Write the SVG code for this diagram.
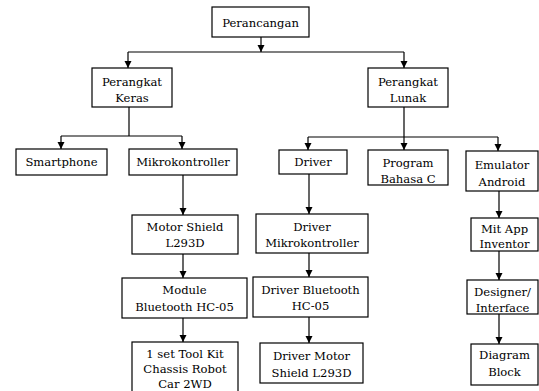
<svg xmlns="http://www.w3.org/2000/svg" width="539" height="391" viewBox="0 0 539 391">
<style>
.box{fill:#fff;stroke:#000;stroke-width:1.2}
.t{font-family:'DejaVu Serif','Liberation Serif',serif;font-size:11.6px;fill:#000;text-anchor:middle}
.c{fill:none;stroke:#000;stroke-width:1.2}
</style>
<rect width="539" height="391" fill="#fff"/>
<g id="connectors">
<path class="c" d="M261,37 V52"/>
<path class="c" d="M128,52 H404"/>
<path class="c" d="M128,52 V68"/>
<path class="c" d="M404,52 V68"/>
<path class="c" d="M129,107 V136 M61,136 H182"/>
<path class="c" d="M61,136 V149"/>
<path class="c" d="M182,136 V149"/>
<path class="c" d="M404,107 V137 M308,137 H498"/>
<path class="c" d="M308,137 V150"/>
<path class="c" d="M404,137 V150"/>
<path class="c" d="M498,137 V151"/>
<path class="c" d="M183,175 V215"/>
<path class="c" d="M183,254 V278"/>
<path class="c" d="M183,318 V342"/>
<path class="c" d="M309,174 V214"/>
<path class="c" d="M309,253 V277"/>
<path class="c" d="M309,317 V343"/>
<path class="c" d="M499,191 V218"/>
<path class="c" d="M499,251 V280"/>
<path class="c" d="M499,314 V344"/>
<g id="arrowheads" fill="#000">
<path d="M257.5,45 H264.5 L261,52 Z"/>
<path d="M124.5,61 H131.5 L128,68 Z"/>
<path d="M400.5,61 H407.5 L404,68 Z"/>
<path d="M57.5,142 H64.5 L61,149 Z"/>
<path d="M178.5,142 H185.5 L182,149 Z"/>
<path d="M304.5,143 H311.5 L308,150 Z"/>
<path d="M400.5,143 H407.5 L404,150 Z"/>
<path d="M494.5,144 H501.5 L498,151 Z"/>
<path d="M179.5,208 H186.5 L183,215 Z"/>
<path d="M179.5,271 H186.5 L183,278 Z"/>
<path d="M179.5,335 H186.5 L183,342 Z"/>
<path d="M305.5,207 H312.5 L309,214 Z"/>
<path d="M305.5,270 H312.5 L309,277 Z"/>
<path d="M305.5,336 H312.5 L309,343 Z"/>
<path d="M495.5,211 H502.5 L499,218 Z"/>
<path d="M495.5,273 H502.5 L499,280 Z"/>
<path d="M495.5,337 H502.5 L499,344 Z"/>
</g>
</g>
<g id="perancangan"><rect class="box" x="212" y="7" width="97" height="30"/><text class="t" x="260.5" y="26.5">Perancangan</text></g>
<g id="perangkat-keras"><rect class="box" x="92" y="68" width="80" height="39"/><text class="t" x="132" y="85.5">Perangkat</text><text class="t" x="132" y="102">Keras</text></g>
<g id="perangkat-lunak"><rect class="box" x="368" y="68" width="80" height="39"/><text class="t" x="408" y="85.5">Perangkat</text><text class="t" x="408" y="102">Lunak</text></g>
<g id="smartphone"><rect class="box" x="16" y="149" width="91" height="26"/><text class="t" x="61.5" y="166">Smartphone</text></g>
<g id="mikrokontroller"><rect class="box" x="129" y="149" width="108" height="26"/><text class="t" x="183" y="166">Mikrokontroller</text></g>
<g id="driver"><rect class="box" x="279" y="150" width="68" height="24"/><text class="t" x="313" y="166">Driver</text></g>
<g id="program-bahasa-c"><rect class="box" x="368" y="150" width="80" height="35"/><text class="t" x="408" y="166.5">Program</text><text class="t" x="408" y="182.5">Bahasa C</text></g>
<g id="emulator-android"><rect class="box" x="466" y="151" width="72" height="40"/><text class="t" x="502" y="168.5">Emulator</text><text class="t" x="502" y="185.5">Android</text></g>
<g id="motor-shield"><rect class="box" x="132" y="215" width="106" height="39"/><text class="t" x="185" y="231">Motor Shield</text><text class="t" x="185" y="247">L293D</text></g>
<g id="module-bluetooth"><rect class="box" x="122" y="278" width="125" height="40"/><text class="t" x="184.5" y="294">Module</text><text class="t" x="184.5" y="311">Bluetooth HC-05</text></g>
<g id="tool-kit"><rect class="box" x="132" y="342" width="106" height="60"/><text class="t" x="185" y="358">1 set Tool Kit</text><text class="t" x="185" y="373">Chassis Robot</text><text class="t" x="185" y="388">Car 2WD</text></g>
<g id="driver-mikrokontroller"><rect class="box" x="256" y="214" width="112" height="39"/><text class="t" x="312" y="231">Driver</text><text class="t" x="312" y="247">Mikrokontroller</text></g>
<g id="driver-bluetooth"><rect class="box" x="253" y="277" width="115" height="40"/><text class="t" x="310.5" y="294">Driver Bluetooth</text><text class="t" x="310.5" y="310">HC-05</text></g>
<g id="driver-motor"><rect class="box" x="260" y="343" width="103" height="40"/><text class="t" x="311.5" y="360">Driver Motor</text><text class="t" x="311.5" y="377">Shield L293D</text></g>
<g id="mit-app-inventor"><rect class="box" x="471" y="218" width="67" height="33"/><text class="t" x="504.5" y="233">Mit App</text><text class="t" x="504.5" y="248">Inventor</text></g>
<g id="designer-interface"><rect class="box" x="467" y="280" width="71" height="34"/><text class="t" x="502.5" y="296">Designer/</text><text class="t" x="502.5" y="311.5">Interface</text></g>
<g id="diagram-block"><rect class="box" x="471" y="344" width="67" height="41"/><text class="t" x="504.5" y="359">Diagram</text><text class="t" x="504.5" y="376">Block</text></g>
</svg>
